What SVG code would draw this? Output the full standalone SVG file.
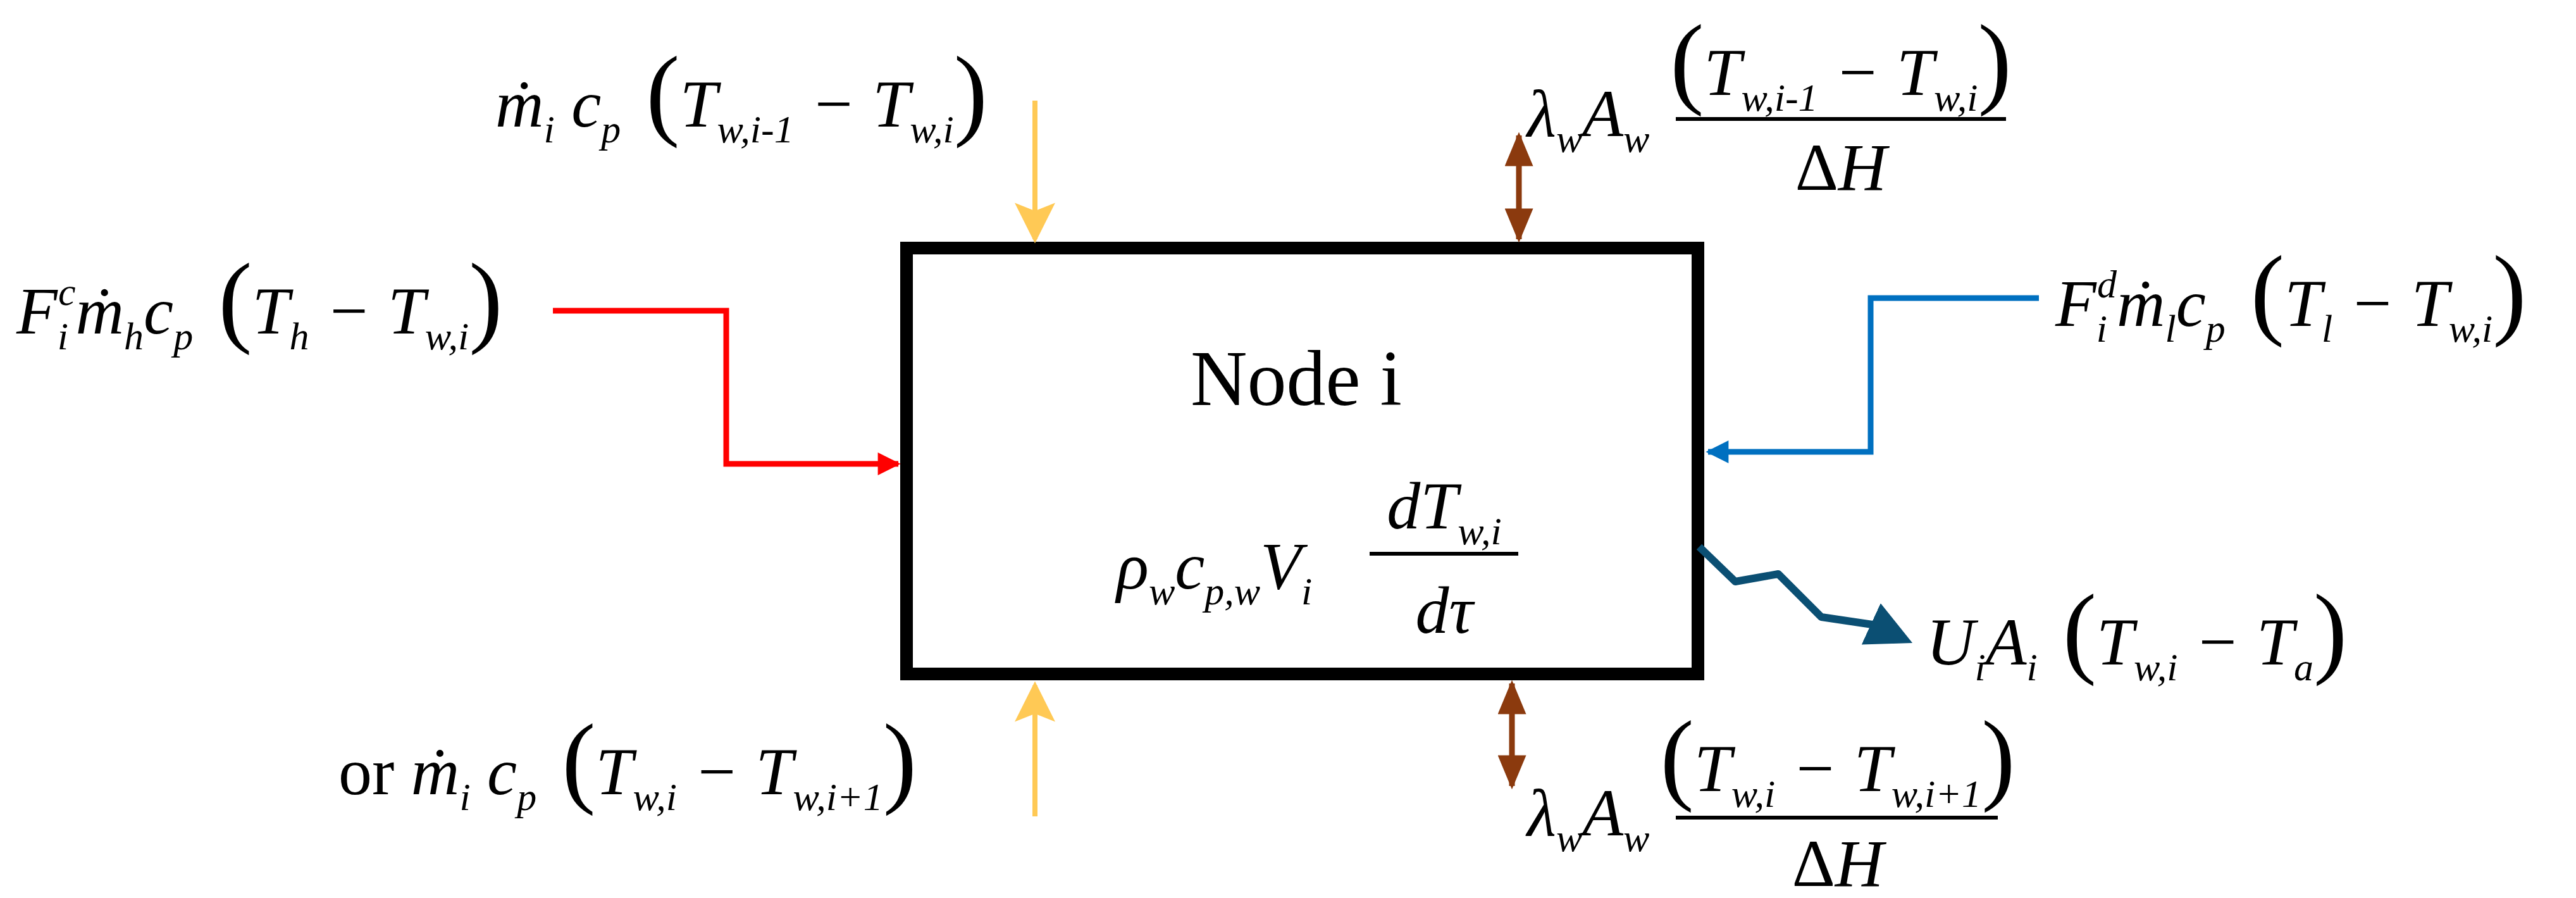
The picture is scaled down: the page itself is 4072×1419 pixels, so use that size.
<svg xmlns="http://www.w3.org/2000/svg" width="4072" height="1419" viewBox="0 0 4072 1419">
<style>
.m{font-family:"Liberation Serif",serif;font-style:italic;font-size:106px;fill:#000}
.s{font-size:62px}
.p{font-family:"Liberation Serif",serif;font-style:normal;font-size:160px}
.n{font-family:"Liberation Serif",serif;font-size:124px;fill:#000}
.bar{stroke:#000;stroke-width:6}
</style>
<defs>
<marker id="ar" viewBox="0 0 10 10" refX="9" refY="5" markerWidth="5" markerHeight="4" orient="auto"><path d="M0,0L10,5L0,10z" fill="#FF0000"/></marker>
<marker id="ab" viewBox="0 0 10 10" refX="9" refY="5" markerWidth="5" markerHeight="4" orient="auto"><path d="M0,0L10,5L0,10z" fill="#0070C0"/></marker>
<marker id="ay" viewBox="0 0 10 10" refX="9" refY="5" markerWidth="9" markerHeight="8" orient="auto"><path d="M0,0L10,5L0,10L2,5z" fill="#FFC955"/></marker>
<marker id="an" viewBox="0 0 10 10" refX="9" refY="5" markerWidth="6" markerHeight="5" orient="auto-start-reverse" preserveAspectRatio="none"><path d="M0,0L10,5L0,10z" fill="#8B3A0E"/></marker>
<marker id="aw" viewBox="0 0 10 10" refX="8" refY="5" markerWidth="6" markerHeight="6" orient="auto"><path d="M0,0L10,5L0,10z" fill="#0B4F73"/></marker>
</defs>
<rect width="4072" height="1419" fill="#fff"/>
<g id="node-i">
<rect x="1433" y="392" width="1251" height="673" fill="#fff" stroke="#000" stroke-width="20"/>
<text x="2049" y="640" class="n" text-anchor="middle">Node i</text>
<text x="1765" y="930" class="m">ρ<tspan class="s" dy="25">w</tspan><tspan dy="-25">c</tspan><tspan class="s" dy="25">p,w</tspan><tspan dy="-25">V</tspan><tspan class="s" dy="25">i</tspan></text>
<text x="2283" y="835" class="m" text-anchor="middle">dT<tspan class="s" dy="25">w,i</tspan></text>
<line x1="2165" y1="875" x2="2400" y2="875" class="bar"/>
<text x="2283" y="1000" class="m" text-anchor="middle">dτ</text>
</g>
<g id="connectors" fill="none">
<path d="M874,491H1148V733H1420" stroke="#FF0000" stroke-width="9" marker-end="url(#ar)"/>
<path d="M3223,471H2957V714H2700" stroke="#0070C0" stroke-width="9" marker-end="url(#ab)"/>
<line x1="1636" y1="159" x2="1636" y2="378" stroke="#FFC955" stroke-width="8" marker-end="url(#ay)"/>
<line x1="1636" y1="1290" x2="1636" y2="1083" stroke="#FFC955" stroke-width="8" marker-end="url(#ay)"/>
<line x1="2401" y1="214" x2="2401" y2="378" stroke="#8B3A0E" stroke-width="9" marker-start="url(#an)" marker-end="url(#an)"/>
<line x1="2390" y1="1080" x2="2390" y2="1242" stroke="#8B3A0E" stroke-width="9" marker-start="url(#an)" marker-end="url(#an)"/>
<path d="M2686,864L2743,919L2811,907L2879,975L2960,987L3010,1010" stroke="#0B4F73" stroke-width="12" stroke-linejoin="round" marker-end="url(#aw)"/>
</g>
<g id="flow-top">
<text x="783" y="200" class="m">ṁ<tspan class="s" dy="25">i</tspan><tspan dy="-25"> c</tspan><tspan class="s" dy="25">p</tspan><tspan class="p" dy="-25"> (</tspan>T<tspan class="s" dy="25">w,i-1</tspan><tspan dy="-25"> − T</tspan><tspan class="s" dy="25">w,i</tspan><tspan class="p" dy="-25">)</tspan></text>
</g>
<g id="flow-bottom">
<text x="535" y="1255" class="m"><tspan style="font-style:normal">or </tspan> ṁ<tspan class="s" dy="25">i</tspan><tspan dy="-25"> c</tspan><tspan class="s" dy="25">p</tspan><tspan class="p" dy="-25"> (</tspan>T<tspan class="s" dy="25">w,i</tspan><tspan dy="-25"> − T</tspan><tspan class="s" dy="25">w,i+1</tspan><tspan class="p" dy="-25">)</tspan></text>
</g>
<g id="heat-in">
<text x="26" y="527" class="m">F<tspan class="s" dy="25">i</tspan><tspan class="s" dx="-16" dy="-70">c</tspan><tspan dy="45">ṁ</tspan><tspan class="s" dy="25">h</tspan><tspan dy="-25">c</tspan><tspan class="s" dy="25">p</tspan><tspan class="p" dy="-25"> (</tspan>T<tspan class="s" dy="25">h</tspan><tspan dy="-25"> − T</tspan><tspan class="s" dy="25">w,i</tspan><tspan class="p" dy="-25">)</tspan></text>
</g>
<g id="heat-out">
<text x="3249" y="515" class="m">F<tspan class="s" dy="25">i</tspan><tspan class="s" dx="-16" dy="-70">d</tspan><tspan dy="45">ṁ</tspan><tspan class="s" dy="25">l</tspan><tspan dy="-25">c</tspan><tspan class="s" dy="25">p</tspan><tspan class="p" dy="-25"> (</tspan>T<tspan class="s" dy="25">l</tspan><tspan dy="-25"> − T</tspan><tspan class="s" dy="25">w,i</tspan><tspan class="p" dy="-25">)</tspan></text>
</g>
<g id="loss">
<text x="3045" y="1050" class="m">U<tspan class="s" dy="25">i</tspan><tspan dy="-25">A</tspan><tspan class="s" dy="25">i</tspan><tspan class="p" dy="-25"> (</tspan>T<tspan class="s" dy="25">w,i</tspan><tspan dy="-25"> − T</tspan><tspan class="s" dy="25">a</tspan><tspan class="p" dy="-25">)</tspan></text>
</g>
<g id="cond-top">
<text x="2414" y="215" class="m">λ<tspan class="s" dy="25">w</tspan><tspan dy="-25">A</tspan><tspan class="s" dy="25">w</tspan></text>
<text x="2910" y="150" class="m" text-anchor="middle"><tspan class="p">(</tspan>T<tspan class="s" dy="25">w,i-1</tspan><tspan dy="-25"> − T</tspan><tspan class="s" dy="25">w,i</tspan><tspan class="p" dy="-25">)</tspan></text>
<line x1="2649" y1="188" x2="3171" y2="188" class="bar" stroke="#444"/>
<text x="2910" y="300" class="m" text-anchor="middle"><tspan style="font-style:normal">Δ</tspan>H</text>
</g>
<g id="cond-bottom">
<text x="2414" y="1320" class="m">λ<tspan class="s" dy="25">w</tspan><tspan dy="-25">A</tspan><tspan class="s" dy="25">w</tspan></text>
<text x="2905" y="1250" class="m" text-anchor="middle"><tspan class="p">(</tspan>T<tspan class="s" dy="25">w,i</tspan><tspan dy="-25"> − T</tspan><tspan class="s" dy="25">w,i+1</tspan><tspan class="p" dy="-25">)</tspan></text>
<line x1="2649" y1="1292" x2="3158" y2="1292" class="bar" stroke="#444"/>
<text x="2905" y="1400" class="m" text-anchor="middle"><tspan style="font-style:normal">Δ</tspan>H</text>
</g>
</svg>
